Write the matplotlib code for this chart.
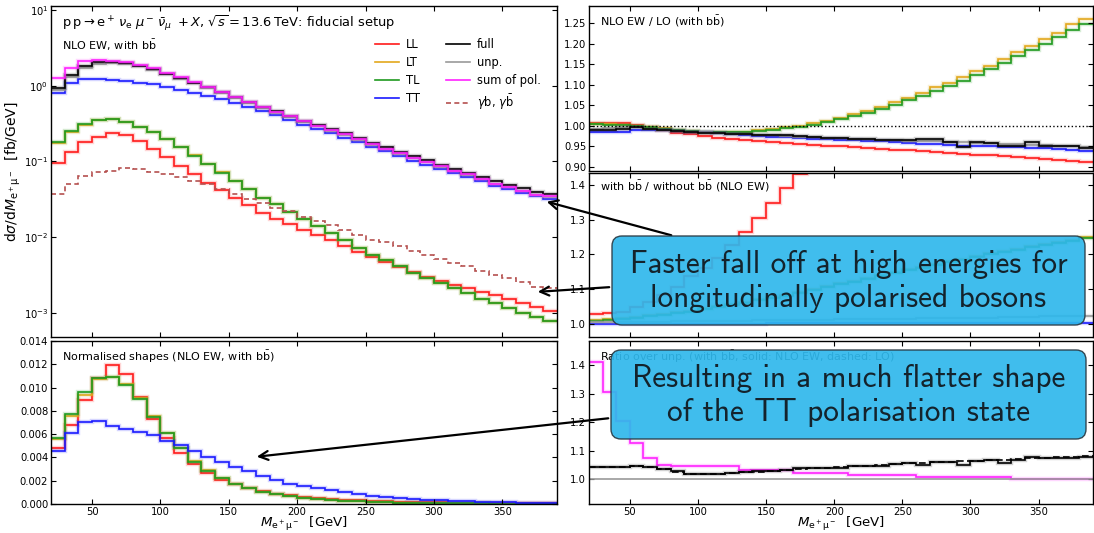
import numpy as np
import matplotlib
matplotlib.use("Agg")
import matplotlib.pyplot as plt
from matplotlib.lines import Line2D
from matplotlib.patches import FancyBboxPatch, FancyArrowPatch
from matplotlib.ticker import NullLocator, LogLocator, MultipleLocator

# bin edges in M_e+mu- [GeV]
edges = np.arange(20, 391, 10)

# --- differential cross sections, NLO EW with bb (fb/GeV)
full = [0.93, 1.38, 1.80, 2.05, 2.08, 2.00, 1.85, 1.65, 1.45, 1.27, 1.10, 0.95, 0.82, 0.71, 0.61,
        0.53, 0.46, 0.40, 0.346, 0.307, 0.268, 0.235, 0.204, 0.176, 0.154, 0.135, 0.117, 0.103,
        0.091, 0.080, 0.071, 0.062, 0.055, 0.049, 0.044, 0.039, 0.037]
unp = [0.89, 1.32, 1.73, 1.96, 1.99, 1.93, 1.80, 1.62, 1.42, 1.245, 1.076, 0.926, 0.798, 0.689,
       0.592, 0.511, 0.443, 0.385, 0.333, 0.293, 0.256, 0.224, 0.194, 0.166, 0.147, 0.127, 0.110,
       0.098, 0.0855, 0.0749, 0.0672, 0.0582, 0.051, 0.0456, 0.0409, 0.0362, 0.0344]
sum_pol = [1.26, 1.73, 2.09, 2.21, 2.14, 2.03, 1.88, 1.69, 1.48, 1.30, 1.124, 0.957, 0.824, 0.712,
           0.612, 0.522, 0.453, 0.393, 0.340, 0.297, 0.260, 0.227, 0.197, 0.168, 0.148, 0.128,
           0.111, 0.099, 0.0861, 0.0754, 0.0677, 0.0583, 0.0511, 0.0457, 0.041, 0.0362, 0.0345]
xs_LL = [0.095, 0.132, 0.179, 0.212, 0.238, 0.224, 0.184, 0.146, 0.113, 0.0875, 0.068, 0.0526,
         0.0417, 0.0333, 0.0266, 0.021, 0.0172, 0.0147, 0.0126, 0.0108, 0.0091, 0.0076, 0.0063,
         0.0054, 0.0047, 0.0040, 0.00348, 0.0030, 0.00266, 0.00235, 0.00212, 0.0019, 0.00173,
         0.00154, 0.00137, 0.0012, 0.00107]
xs_LT = [0.176, 0.248, 0.305, 0.348, 0.36, 0.33, 0.289, 0.245, 0.2, 0.155, 0.12, 0.093, 0.072,
         0.055, 0.043, 0.033, 0.027, 0.0215, 0.0172, 0.014, 0.0114, 0.0091, 0.0073, 0.0059, 0.0050,
         0.0041, 0.0034, 0.0029, 0.00247, 0.00212, 0.00182, 0.00154, 0.00134, 0.00116, 0.00100,
         0.00087, 0.00077]
xs_TL = [0.182, 0.255, 0.313, 0.354, 0.365, 0.33, 0.288, 0.243, 0.198, 0.153, 0.119, 0.092, 0.071,
         0.055, 0.043, 0.033, 0.027, 0.0215, 0.0172, 0.014, 0.0114, 0.0091, 0.0073, 0.0059, 0.0050,
         0.0041, 0.0034, 0.0029, 0.00247, 0.00212, 0.00182, 0.00154, 0.00134, 0.00116, 0.00100,
         0.00087, 0.00077]
xs_TT = [0.80, 1.10, 1.24, 1.24, 1.20, 1.15, 1.10, 1.04, 0.97, 0.89, 0.81, 0.73, 0.66, 0.59, 0.52,
         0.46, 0.405, 0.355, 0.305, 0.27, 0.236, 0.206, 0.179, 0.154, 0.136, 0.118, 0.102, 0.091,
         0.0795, 0.0695, 0.0625, 0.0545, 0.048, 0.043, 0.0385, 0.0348, 0.0322]
xs_gb = [0.0368, 0.051, 0.0646, 0.0715, 0.0752, 0.0807, 0.079, 0.0736, 0.068, 0.0614, 0.0553,
         0.050, 0.043, 0.0368, 0.0316, 0.0286, 0.0245, 0.0221, 0.0184, 0.0163, 0.0144, 0.0126,
         0.0108, 0.0093, 0.0087, 0.0076, 0.00665, 0.0058, 0.0052, 0.0046, 0.0041, 0.0036, 0.00318,
         0.00288, 0.00256, 0.0022, 0.00214]

# --- normalised shapes
shape_LL = [0.0048, 0.0068, 0.0089, 0.0108, 0.0119, 0.0112, 0.0092, 0.0073, 0.0057, 0.0044,
            0.0034, 0.0027, 0.0021, 0.0017, 0.00135, 0.00108, 0.00088, 0.00076, 0.00064, 0.00055,
            0.00046, 0.00038, 0.00032, 0.00027, 0.00023, 0.0002, 0.00017, 0.00015, 0.00013,
            0.00012, 0.00011, 0.0001, 0.00009, 0.00008, 0.00007, 0.00006, 0.000055]
shape_LT = [0.0056, 0.0076, 0.0094, 0.0107, 0.0109, 0.0103, 0.0091, 0.0076, 0.0061, 0.0048,
            0.0037, 0.0029, 0.0022, 0.0017, 0.00134, 0.00106, 0.00085, 0.00068, 0.00053, 0.00043,
            0.00034, 0.00027, 0.00022, 0.00018, 0.00015, 0.00012, 0.0001, 0.000086, 0.000074,
            0.000063, 0.000054, 0.000046, 0.00004, 0.000035, 0.00003, 0.000026, 0.000023]
shape_TL = [0.0057, 0.0077, 0.0096, 0.0108, 0.0109, 0.0102, 0.009, 0.0075, 0.0061, 0.0048, 0.0036,
            0.0028, 0.0022, 0.0017, 0.00134, 0.00106, 0.00085, 0.00068, 0.00053, 0.00043, 0.00034,
            0.00027, 0.00022, 0.00018, 0.00015, 0.00012, 0.0001, 0.000086, 0.000074, 0.000063,
            0.000054, 0.000046, 0.00004, 0.000035, 0.00003, 0.000026, 0.000023]
shape_TT = [0.00457, 0.0061, 0.00703, 0.00709, 0.00674, 0.00643, 0.00617, 0.00589, 0.00543,
            0.00503, 0.00457, 0.004, 0.00357, 0.00314, 0.0028, 0.0024, 0.00206, 0.00171, 0.00155,
            0.00134, 0.00117, 0.00099, 0.00085, 0.00073, 0.00062, 0.00053, 0.00045, 0.00038,
            0.00032, 0.00027, 0.00023, 0.0002, 0.00017, 0.00014, 0.00012, 0.0001, 0.00009]

# --- NLO EW / LO (with bb)
kew_LL = [1.007, 1.007, 1.006, 1.003, 0.997, 0.99, 0.983, 0.979, 0.975, 0.971, 0.968, 0.965, 0.962,
          0.96, 0.958, 0.956, 0.954, 0.952, 0.95, 0.948, 0.946, 0.944, 0.942, 0.94, 0.938, 0.936,
          0.934, 0.932, 0.93, 0.928, 0.926, 0.924, 0.922, 0.92, 0.918, 0.915, 0.912]
kew_LT = [1.004, 1.004, 1.002, 1.0, 0.997, 0.994, 0.991, 0.988, 0.986, 0.985, 0.985, 0.986, 0.989,
          0.992, 0.996, 1.0, 1.006, 1.012, 1.019, 1.028, 1.037, 1.047, 1.057, 1.068, 1.08, 1.094,
          1.105, 1.12, 1.134, 1.147, 1.164, 1.18, 1.195, 1.211, 1.226, 1.247, 1.261]
kew_TL = [1.004, 1.003, 1.001, 0.999, 0.996, 0.993, 0.99, 0.987, 0.985, 0.984, 0.984, 0.985, 0.987,
          0.99, 0.994, 0.998, 1.003, 1.009, 1.016, 1.024, 1.032, 1.042, 1.051, 1.062, 1.073, 1.085,
          1.097, 1.11, 1.124, 1.138, 1.154, 1.169, 1.184, 1.2, 1.216, 1.233, 1.249]
kew_TT = [0.984, 0.984, 0.986, 0.989, 0.99, 0.99, 0.988, 0.986, 0.984, 0.982, 0.98, 0.978, 0.976,
          0.974, 0.972, 0.971, 0.969, 0.968, 0.966, 0.965, 0.963, 0.962, 0.96, 0.958, 0.956, 0.955,
          0.954, 0.952, 0.951, 0.95, 0.949, 0.948, 0.947, 0.946, 0.944, 0.941, 0.938]
kew_full = [0.991, 0.991, 0.993, 0.996, 0.993, 0.99, 0.987, 0.985, 0.983, 0.982, 0.98, 0.979, 0.978,
            0.977, 0.978, 0.976, 0.973, 0.97, 0.97, 0.968, 0.967, 0.966, 0.966, 0.965, 0.969, 0.967,
            0.96, 0.948, 0.961, 0.958, 0.951, 0.95, 0.961, 0.952, 0.952, 0.95, 0.946]
kew_unp = [0.993, 0.994, 0.996, 0.996, 0.993, 0.99, 0.988, 0.986, 0.984, 0.982, 0.981, 0.979, 0.978,
           0.977, 0.975, 0.974, 0.972, 0.971, 0.97, 0.968, 0.967, 0.966, 0.965, 0.964, 0.963, 0.962,
           0.961, 0.96, 0.958, 0.958, 0.956, 0.955, 0.954, 0.953, 0.952, 0.95, 0.949]

# --- with bb / without bb (NLO EW)
rbb_LL = [1.029, 1.033, 1.036, 1.05, 1.064, 1.084, 1.108, 1.137, 1.16, 1.19, 1.228, 1.264, 1.306,
          1.349, 1.39, 1.43, 1.48, 1.53, 1.58, 1.63, 1.68, 1.74, 1.8, 1.85, 1.91, 1.97, 2.03, 2.09,
          2.15, 2.21, 2.27, 2.33, 2.39, 2.45, 2.51, 2.57, 2.63]
rbb_LT = [1.013, 1.015, 1.018, 1.021, 1.025, 1.029, 1.034, 1.039, 1.045, 1.051, 1.057, 1.064, 1.071,
          1.078, 1.085, 1.093, 1.101, 1.109, 1.117, 1.125, 1.133, 1.141, 1.149, 1.157, 1.165, 1.173,
          1.18, 1.188, 1.195, 1.203, 1.21, 1.217, 1.224, 1.231, 1.237, 1.243, 1.25]
rbb_TL = [1.01, 1.012, 1.015, 1.018, 1.022, 1.026, 1.031, 1.036, 1.042, 1.048, 1.054, 1.061, 1.068,
          1.075, 1.082, 1.09, 1.098, 1.106, 1.114, 1.122, 1.13, 1.138, 1.146, 1.154, 1.162, 1.17,
          1.177, 1.185, 1.192, 1.2, 1.207, 1.214, 1.221, 1.228, 1.234, 1.24, 1.246]
rbb_TT = [1.0, 1.0, 1.0, 1.0, 1.0, 1.0, 1.0, 1.001, 1.001, 1.001, 1.001, 1.001, 1.001, 1.002, 1.002,
          1.002, 1.002, 1.002, 1.002, 1.002, 1.003, 1.003, 1.003, 1.003, 1.003, 1.003, 1.003, 1.003,
          1.004, 1.004, 1.004, 1.004, 1.004, 1.004, 1.004, 1.004, 1.004]
rbb_unp = [1.005, 1.005, 1.006, 1.006, 1.007, 1.007, 1.008, 1.008, 1.009, 1.009, 1.01, 1.01, 1.011,
           1.011, 1.012, 1.012, 1.013, 1.013, 1.014, 1.014, 1.015, 1.015, 1.016, 1.016, 1.017,
           1.017, 1.018, 1.018, 1.019, 1.019, 1.02, 1.02, 1.021, 1.022, 1.022, 1.023, 1.024]

# --- ratio over unp. (with bb)
ru_full_nlo = [1.042, 1.042, 1.043, 1.045, 1.044, 1.036, 1.028, 1.02, 1.019, 1.02, 1.022, 1.026,
               1.028, 1.03, 1.031, 1.038, 1.038, 1.04, 1.039, 1.048, 1.047, 1.047, 1.052, 1.058,
               1.05, 1.062, 1.06, 1.05, 1.064, 1.068, 1.057, 1.066, 1.079, 1.074, 1.075, 1.076, 1.078]
ru_full_lo = [1.043, 1.043, 1.044, 1.045, 1.043, 1.035, 1.026, 1.019, 1.018, 1.019, 1.021, 1.024,
              1.027, 1.03, 1.033, 1.036, 1.039, 1.041, 1.043, 1.046, 1.048, 1.05, 1.053, 1.056,
              1.058, 1.06, 1.062, 1.063, 1.065, 1.067, 1.069, 1.071, 1.073, 1.075, 1.077, 1.079, 1.081]
ru_sum = [1.413, 1.308, 1.206, 1.126, 1.076, 1.05, 1.045, 1.045, 1.045, 1.045, 1.045, 1.033, 1.033,
          1.033, 1.033, 1.022, 1.022, 1.022, 1.022, 1.014, 1.014, 1.014, 1.014, 1.014, 1.007, 1.007,
          1.007, 1.007, 1.007, 1.007, 1.007, 1.001, 1.001, 1.001, 1.001, 1.001, 1.001]

c_LL, c_LT, c_TL, c_TT = '#ff1a1a', '#e3a81c', '#1f9a1f', '#1a1aff'
c_full, c_unp, c_sum, c_gb = 'black', '#9a9a9a', '#ff22ff', '#b5504f'

W, H = 1094, 533
fig = plt.figure(figsize=(W / 100, H / 100), dpi=100)


def rect(x0, y0, x1, y1):
    return [x0 / W, 1 - y1 / H, (x1 - x0) / W, (y1 - y0) / H]


def step(ax, vals, color, ls='-', lw=1.2, band=True):
    if band:
        ax.stairs(vals, edges, baseline=None, color=color, lw=3.2, alpha=0.18)
    ax.stairs(vals, edges, baseline=None, color=color, lw=lw, ls=ls)


ax_main = fig.add_axes(rect(51, 6, 557, 337))
ax_norm = fig.add_axes(rect(51, 341, 557, 504))
ax_ew = fig.add_axes(rect(589, 6, 1093, 171))
ax_bb = fig.add_axes(rect(589, 173, 1093, 337))
ax_unp = fig.add_axes(rect(589, 341, 1093, 504))

for ax in [ax_main, ax_norm, ax_ew, ax_bb, ax_unp]:
    ax.set_xlim(20, 390)
    ax.xaxis.set_major_locator(MultipleLocator(50))
    ax.tick_params(direction='in', top=True, right=True, labelsize=7.2, length=3.5, width=0.8,
                   pad=2)
    for s in ax.spines.values():
        s.set_linewidth(1.0)
for ax in [ax_main, ax_ew, ax_bb]:
    ax.tick_params(labelbottom=False)

# main panel
ax_main.set_yscale('log')
for vals, c in [(xs_LL, c_LL), (xs_LT, c_LT), (xs_TL, c_TL), (xs_TT, c_TT),
                (unp, c_unp), (full, c_full), (sum_pol, c_sum)]:
    step(ax_main, vals, c)
step(ax_main, xs_gb, c_gb, ls=(0, (3, 2)), band=False)
ax_main.set_ylim(4.8e-4, 11.3)
ax_main.yaxis.set_major_locator(LogLocator(base=10, numticks=10))
ax_main.yaxis.set_minor_locator(NullLocator())
ax_main.set_ylabel(r'd$\sigma$/d$M_{\mathrm{e^+\mu^-}}$  [fb/GeV]', fontsize=10)
ax_main.yaxis.set_label_coords(-0.056, 0.5)
ax_main.text(0.022, 0.977, r'$\mathrm{p\,p}\rightarrow\mathrm{e}^+\,\nu_\mathrm{e}\;\mu^-\,\bar{\nu}_\mu\;+X$, '
             r'$\sqrt{s}=13.6\,$TeV: fiducial setup', transform=ax_main.transAxes,
             fontsize=9.4, va='top', ha='left')
ax_main.text(0.022, 0.905, r'NLO EW, with b$\bar{\mathrm{b}}$', transform=ax_main.transAxes,
             fontsize=8, va='top', ha='left')

handles = [Line2D([], [], color=c_LL, lw=1.2), Line2D([], [], color=c_LT, lw=1.2),
           Line2D([], [], color=c_TL, lw=1.2), Line2D([], [], color=c_TT, lw=1.2),
           Line2D([], [], color=c_full, lw=1.2), Line2D([], [], color=c_unp, lw=1.2),
           Line2D([], [], color=c_sum, lw=1.2), Line2D([], [], color=c_gb, lw=1.2, ls=(0, (3, 2)))]
labels = ['LL', 'LT', 'TL', 'TT', 'full', 'unp.', 'sum of pol.', r'$\gamma$b, $\gamma\bar{\mathrm{b}}$']
ax_main.legend(handles, labels, ncol=2, loc='upper left', bbox_to_anchor=(0.62, 0.935),
               frameon=False, fontsize=8.3, handlelength=2.1, columnspacing=2.2,
               labelspacing=0.45, handletextpad=0.6)

# normalised shapes
for vals, c in [(shape_LL, c_LL), (shape_LT, c_LT), (shape_TL, c_TL), (shape_TT, c_TT)]:
    step(ax_norm, vals, c)
ax_norm.set_ylim(0, 0.014)
ax_norm.yaxis.set_major_locator(MultipleLocator(0.002))
ax_norm.yaxis.set_major_formatter(plt.FormatStrFormatter('%.3f'))
ax_norm.text(0.022, 0.955, r'Normalised shapes (NLO EW, with b$\bar{\mathrm{b}}$)',
             transform=ax_norm.transAxes, fontsize=8, va='top', ha='left')
ax_norm.set_xlabel(r'$M_{\mathrm{e^+\mu^-}}$  [GeV]', fontsize=9.6, labelpad=-1)

# NLO EW / LO
ax_ew.axhline(1.0, color='black', ls=':', lw=1.0)
for vals, c in [(kew_LL, c_LL), (kew_LT, c_LT), (kew_TL, c_TL), (kew_TT, c_TT),
                (kew_unp, c_unp), (kew_full, c_full)]:
    step(ax_ew, vals, c)
ax_ew.set_ylim(0.89, 1.292)
ax_ew.yaxis.set_major_locator(MultipleLocator(0.05))
ax_ew.yaxis.set_major_formatter(plt.FormatStrFormatter('%.2f'))
ax_ew.text(0.022, 0.955, r'NLO EW / LO (with b$\bar{\mathrm{b}}$)', transform=ax_ew.transAxes,
           fontsize=8, va='top', ha='left')

# with bb / without bb
for vals, c in [(rbb_LL, c_LL), (rbb_LT, c_LT), (rbb_TL, c_TL), (rbb_TT, c_TT),
                (rbb_unp, c_unp)]:
    step(ax_bb, vals, c)
ax_bb.set_ylim(0.963, 1.434)
ax_bb.yaxis.set_major_locator(MultipleLocator(0.1))
ax_bb.yaxis.set_major_formatter(plt.FormatStrFormatter('%.1f'))
ax_bb.text(0.022, 0.965, r'with b$\bar{\mathrm{b}}$ / without b$\bar{\mathrm{b}}$ (NLO EW)',
           transform=ax_bb.transAxes, fontsize=8, va='top', ha='left')

# ratio over unp.
ax_unp.axhline(1.0, color='#9a9a9a', lw=1.2)
step(ax_unp, ru_sum, c_sum)
step(ax_unp, ru_full_lo, c_full, ls=(0, (4, 2)), band=False)
step(ax_unp, ru_full_nlo, c_full)
ax_unp.set_ylim(0.913, 1.486)
ax_unp.yaxis.set_major_locator(MultipleLocator(0.1))
ax_unp.yaxis.set_major_formatter(plt.FormatStrFormatter('%.1f'))
ax_unp.text(0.022, 0.955, r'Ratio over unp. (with b$\bar{\mathrm{b}}$, solid: NLO EW, dashed: LO)',
            transform=ax_unp.transAxes, fontsize=8, va='top', ha='left')
ax_unp.set_xlabel(r'$M_{\mathrm{e^+\mu^-}}$  [GeV]', fontsize=9.6, labelpad=-1)

# annotations (figure pixels -> inches)
tr = fig.dpi_scale_trans


def inch(x, y):
    return (x / 100, (H - y) / 100)


for start, end in [((674, 236), (544, 201)), ((612, 287), (535, 292)), ((611, 418), (254, 457))]:
    fig.add_artist(FancyArrowPatch(inch(*start), inch(*end), transform=tr, arrowstyle='->',
                                   mutation_scale=16, lw=1.6, color='black', zorder=5))

boxes = [((612, 236, 1085, 325), 'Faster fall off at high energies for\nlongitudinally polarised bosons'),
         ((611, 350, 1086, 439), 'Resulting in a much flatter shape\nof the TT polarisation state')]
for (x0, y0, x1, y1), txt in boxes:
    bx, by = inch(x0, y1)
    fig.add_artist(FancyBboxPatch((bx, by), (x1 - x0) / 100, (y1 - y0) / 100,
                                  boxstyle='round,pad=0,rounding_size=0.1', transform=tr,
                                  facecolor='#2fb8ec', edgecolor='#2a3a44', lw=1.0,
                                  alpha=0.92, zorder=6))
    cx, cy = inch((x0 + x1) / 2, (y0 + y1) / 2 + 1)
    fig.text(cx, cy, txt, transform=tr, ha='center', va='center', fontsize=22.5,
             family='cmss10', color='#14232c', linespacing=1.22, zorder=7)

fig.savefig('out.png', dpi=100)
